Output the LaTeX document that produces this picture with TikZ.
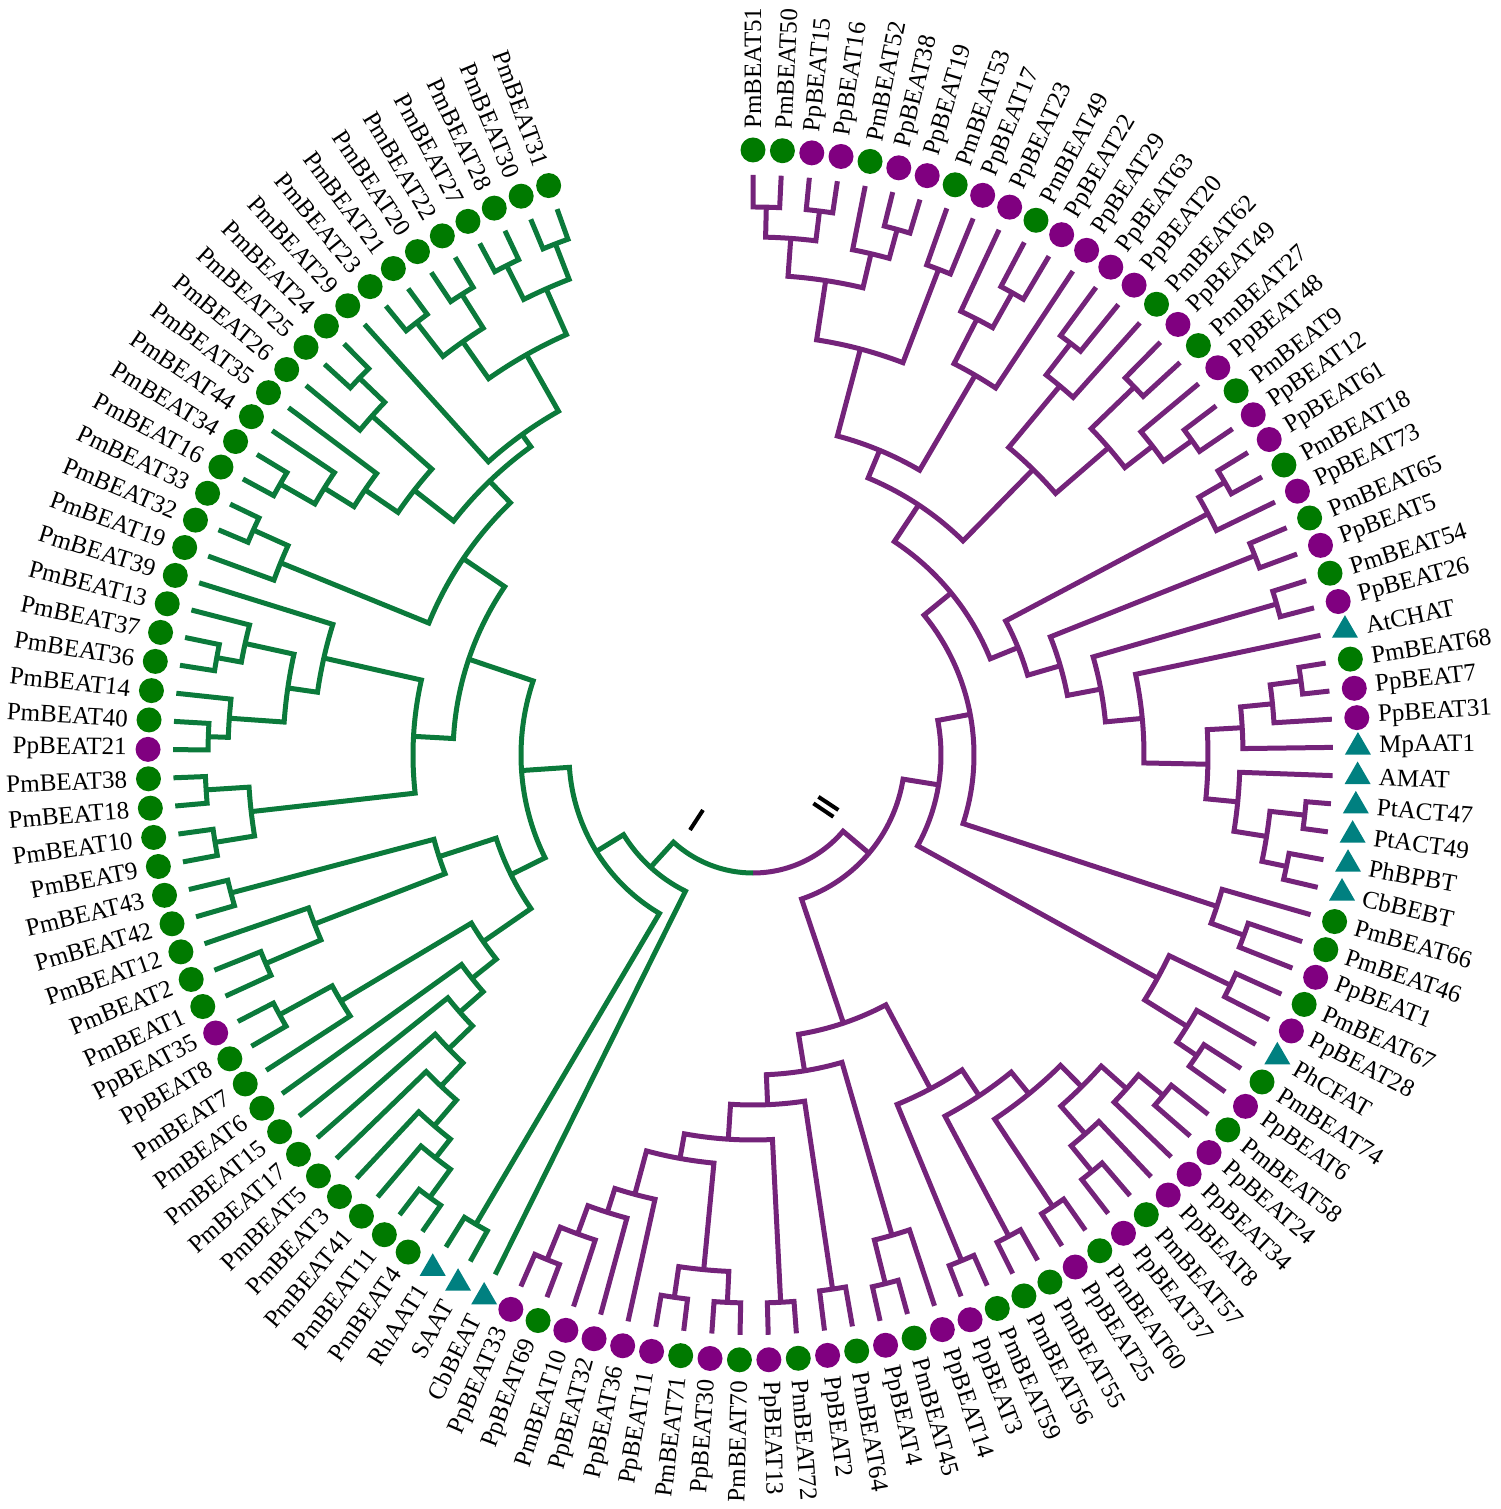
\documentclass[tikz,border=0pt]{standalone}
\usepackage{fontspec}
\setmainfont{Liberation Serif}
\usetikzlibrary{shapes.geometric}
\definecolor{brG}{HTML}{0B7A3B}
\definecolor{brP}{HTML}{74237A}
\definecolor{mkG}{HTML}{007A00}
\definecolor{mkP}{HTML}{800080}
\definecolor{mkT}{HTML}{008080}
\newcommand\J[5]{%
 \pgfmathsetmacro\ta{90-(#2-1)*2.789}\pgfmathsetmacro\tb{90-(#4-1)*2.789}%
 \draw ({\ta}:{#3*0.5pt}) -- ({\ta}:{#1*0.5pt}) arc[start angle=\ta, end angle=\tb, radius={#1*0.5pt}] -- ({\tb}:{#5*0.5pt});}
\tikzset{
 branch/.style={line width=2.5pt},
 mkg/.style={circle,fill=mkG,minimum size=12.5pt,inner sep=0pt},
 mkp/.style={circle,fill=mkP,minimum size=12.5pt,inner sep=0pt},
 mkt/.style={regular polygon,regular polygon sides=3,fill=mkT,minimum size=15pt,inner sep=0pt},
 lab/.style={font=\fontsize{12.5}{14}\selectfont,inner sep=0pt},
 tick/.style={line width=2pt,black}
}
\begin{document}
\begin{tikzpicture}
\useasboundingbox (-376.5pt,-377pt) rectangle (373.5pt,377.5pt);
% purple clade
\begin{scope}[branch,brP]
\J{548}{1}{580}{2}{580}
\J{548}{3}{580}{4}{580}
\J{518}{1.5}{548}{3.5}{548}
\J{545}{6}{580}{7}{580}
\J{515}{5}{580}{6.5}{545}
\J{480}{2.5}{518}{5.75}{515}
\J{520}{8}{580}{9}{580}
\J{420}{4.125}{480}{8.5}{520}
\J{530}{11}{580}{12}{580}
\J{490}{10}{580}{11.5}{530}
\J{440}{10.75}{490}{13}{580}
\J{330}{6.3125}{420}{11.875}{440}
\J{520}{14}{580}{15}{580}
\J{480}{14.5}{520}{16}{580}
\J{530}{17}{580}{18}{580}
\J{540}{20}{580}{21}{580}
\J{505}{19}{580}{20.5}{540}
\J{470}{17.5}{530}{19.75}{505}
\J{400}{15.25}{480}{18.625}{470}
\J{300}{9.09375}{330}{16.9375}{400}
\J{545}{22}{580}{23}{580}
\J{515}{22.5}{545}{24}{580}
\J{540}{25}{580}{26}{580}
\J{545}{27}{580}{28}{580}
\J{553}{30}{580}{31}{580}
\J{522}{30.5}{553}{32}{580}
\J{490}{31.25}{522}{33}{580}
\J{555}{35}{580}{36}{580}
\J{545}{37}{580}{38}{580}
\J{520}{35.5}{555}{37.5}{545}
\J{487}{34}{580}{36.5}{520}
\J{455}{32.125}{490}{35.25}{487}
\J{391}{29}{580}{33.6875}{455}
\J{354}{27.5}{545}{31.344}{391}
\J{320}{25.5}{540}{29.422}{354}
\J{286}{23.25}{515}{27.461}{320}
\J{256}{13.016}{300}{25.355}{286}
\J{523}{40}{580}{41}{580}
\J{488}{39}{580}{40.5}{523}
\J{530}{42}{580}{43}{580}
\J{536}{45}{580}{46}{580}
\J{512}{44}{580}{45.5}{536}
\J{462}{42.5}{530}{44.75}{512}
\J{221}{19.186}{256}{39.75}{488}
\J{188}{29.468}{221}{43.625}{462}
\J{533}{47}{580}{48}{580}
\J{501}{47.5}{533}{49}{580}
\J{537}{51}{580}{52}{580}
\J{504}{50}{580}{51.5}{537}
\J{467}{48.25}{501}{50.75}{504}
\J{542}{53}{580}{54}{580}
\J{437}{49.5}{467}{53.5}{542}
\J{545}{55}{580}{56}{580}
\J{409}{51.5}{437}{55.5}{545}
\J{547}{57}{580}{58}{580}
\J{378}{53.5}{409}{57.5}{547}
\J{545}{60}{580}{61}{580}
\J{500}{59}{580}{60.5}{545}
\J{540}{62}{580}{63}{580}
\J{548}{64}{580}{65}{580}
\J{548}{66}{580}{67}{580}
\J{548}{68}{580}{69}{580}
\J{517}{66.5}{548}{68.5}{548}
\J{545}{73}{580}{74}{580}
\J{510}{72}{580}{73.5}{545}
\J{480}{71}{580}{72.75}{510}
\J{455}{70}{580}{71.875}{480}
\J{410}{67.5}{517}{70.9375}{455}
\J{385}{64.5}{548}{69.219}{410}
\J{350}{62.5}{540}{66.859}{385}
\J{320}{59.75}{500}{64.68}{350}
\J{283}{55.5}{378}{62.215}{320}
\J{152}{36.547}{188}{58.857}{283}
\draw (-40.25:76pt) -- (-40.25:59pt) arc[start angle=-40.25,end angle=-90,radius=59pt];
\end{scope}
% green clade
\begin{scope}[branch,brG]
\J{548}{78}{580}{79}{580}
\J{513}{78.5}{548}{80}{580}
\J{489}{79.25}{513}{81}{580}
\J{455}{80.125}{489}{82}{580}
\J{423}{81.0625}{455}{83}{580}
\J{390}{82.031}{423}{84}{580}
\J{359}{83.016}{390}{85}{580}
\J{540}{87}{580}{88}{580}
\J{480}{86}{580}{87.5}{540}
\J{328}{84.008}{359}{86.75}{480}
\J{530}{89}{580}{90}{580}
\J{470}{89.5}{530}{91}{580}
\J{540}{92}{580}{93}{580}
\J{330}{90.25}{470}{92.5}{540}
\J{270}{85.379}{328}{91.375}{330}
\J{545}{94}{580}{95}{580}
\J{548}{96}{580}{97}{580}
\J{505}{94.5}{545}{96.5}{548}
\J{545}{98}{580}{99}{580}
\J{525}{98.5}{545}{100}{580}
\J{545}{101}{580}{102}{580}
\J{520}{101.5}{545}{103}{580}
\J{470}{99.25}{525}{102.25}{520}
\J{440}{100.75}{470}{104}{580}
\J{340}{95.5}{505}{102.375}{440}
\J{548}{122}{580}{123}{580}
\J{548}{120}{580}{121}{580}
\J{510}{120.5}{548}{122.5}{548}
\J{545}{118}{580}{119}{580}
\J{548}{116}{580}{117}{580}
\J{505}{116.5}{548}{118.5}{545}
\J{460}{117.5}{505}{121.5}{510}
\J{395}{115}{580}{119.5}{460}
\J{545}{113}{580}{114}{580}
\J{510}{112}{580}{113.5}{545}
\J{545}{108}{580}{109}{580}
\J{505}{108.5}{545}{110}{580}
\J{470}{109.25}{505}{111}{580}
\J{430}{110.125}{470}{112.75}{510}
\J{380}{111.4375}{430}{117.25}{395}
\J{548}{106}{580}{107}{580}
\J{510}{105}{580}{106.5}{548}
\J{350}{105.75}{510}{114.344}{380}
\J{300}{98.9375}{340}{110.047}{350}
\J{232}{88.377}{270}{104.49}{300}
\J{545}{76}{580}{77}{580}
\J{184}{76.5}{545}{96.43}{232}
\J{152}{75}{580}{86.47}{184}
\draw (-132.38:76pt) -- (-132.38:59pt) arc[start angle=-132.38,end angle=-90,radius=59pt];
\end{scope}
% clade marks
\draw[tick] (-31.5pt,-37.5pt) -- (-25pt,-27.5pt);
\draw[tick] (30.2pt,-24.2pt) -- (40.2pt,-30.9pt);
\draw[tick] (32.7pt,-20.9pt) -- (42.7pt,-27.5pt);
% leaves
\foreach \n/\t [count=\i] in {PmBEAT51/g,PmBEAT50/g,PpBEAT15/p,PpBEAT16/p,PmBEAT52/g,PpBEAT38/p,PpBEAT19/p,PmBEAT53/g,PpBEAT17/p,PpBEAT23/p,PmBEAT49/g,PpBEAT22/p,PpBEAT29/p,PpBEAT63/p,PpBEAT20/p,PmBEAT62/g,PpBEAT49/p,PmBEAT27/g,PpBEAT48/p,PmBEAT9/g,PpBEAT12/p,PpBEAT61/p,PmBEAT18/g,PpBEAT73/p,PmBEAT65/g,PpBEAT5/p,PmBEAT54/g,PpBEAT26/p,AtCHAT/t,PmBEAT68/g,PpBEAT7/p,PpBEAT31/p,MpAAT1/t,AMAT/t,PtACT47/t,PtACT49/t,PhBPBT/t,CbBEBT/t,PmBEAT66/g,PmBEAT46/g,PpBEAT1/p,PmBEAT67/g,PpBEAT28/p,PhCFAT/t,PmBEAT74/g,PpBEAT6/p,PmBEAT58/g,PpBEAT24/p,PpBEAT34/p,PpBEAT8/p,PmBEAT57/g,PpBEAT37/p,PmBEAT60/g,PpBEAT25/p,PmBEAT55/g,PmBEAT56/g,PmBEAT59/g,PpBEAT3/p,PpBEAT14/p,PmBEAT45/g,PpBEAT4/p,PmBEAT64/g,PpBEAT2/p,PmBEAT72/g,PpBEAT13/p,PmBEAT70/g,PpBEAT30/p,PmBEAT71/g,PpBEAT11/p,PpBEAT36/p,PpBEAT32/p,PmBEAT10/p,PpBEAT69/g,PpBEAT33/p,CbBEAT/t,SAAT/t,RhAAT1/t,PmBEAT4/g,PmBEAT11/g,PmBEAT41/g,PmBEAT3/g,PmBEAT5/g,PmBEAT17/g,PmBEAT15/g,PmBEAT6/g,PmBEAT7/g,PpBEAT8/g,PpBEAT35/p,PmBEAT1/g,PmBEAT2/g,PmBEAT12/g,PmBEAT42/g,PmBEAT43/g,PmBEAT9/g,PmBEAT10/g,PmBEAT18/g,PmBEAT38/g,PpBEAT21/p,PmBEAT40/g,PmBEAT14/g,PmBEAT36/g,PmBEAT37/g,PmBEAT13/g,PmBEAT39/g,PmBEAT19/g,PmBEAT32/g,PmBEAT33/g,PmBEAT16/g,PmBEAT34/g,PmBEAT44/g,PmBEAT35/g,PmBEAT26/g,PmBEAT25/g,PmBEAT24/g,PmBEAT29/g,PmBEAT23/g,PmBEAT21/g,PmBEAT20/g,PmBEAT22/g,PmBEAT27/g,PmBEAT28/g,PmBEAT30/g,PmBEAT31/g}{
 \pgfmathsetmacro\ta{90-(\i-1)*2.789}
 \node[mk\t] (m\i) at (\ta:302.5pt) {};
 \ifdim\ta pt>-90pt
  \node[lab,anchor=west,rotate=\ta] (l\i) at (\ta:313pt) {\n};
 \else
  \node[lab,anchor=east,rotate=\ta+180] (l\i) at (\ta:313pt) {\n};
 \fi
}
\end{tikzpicture}
\end{document}
